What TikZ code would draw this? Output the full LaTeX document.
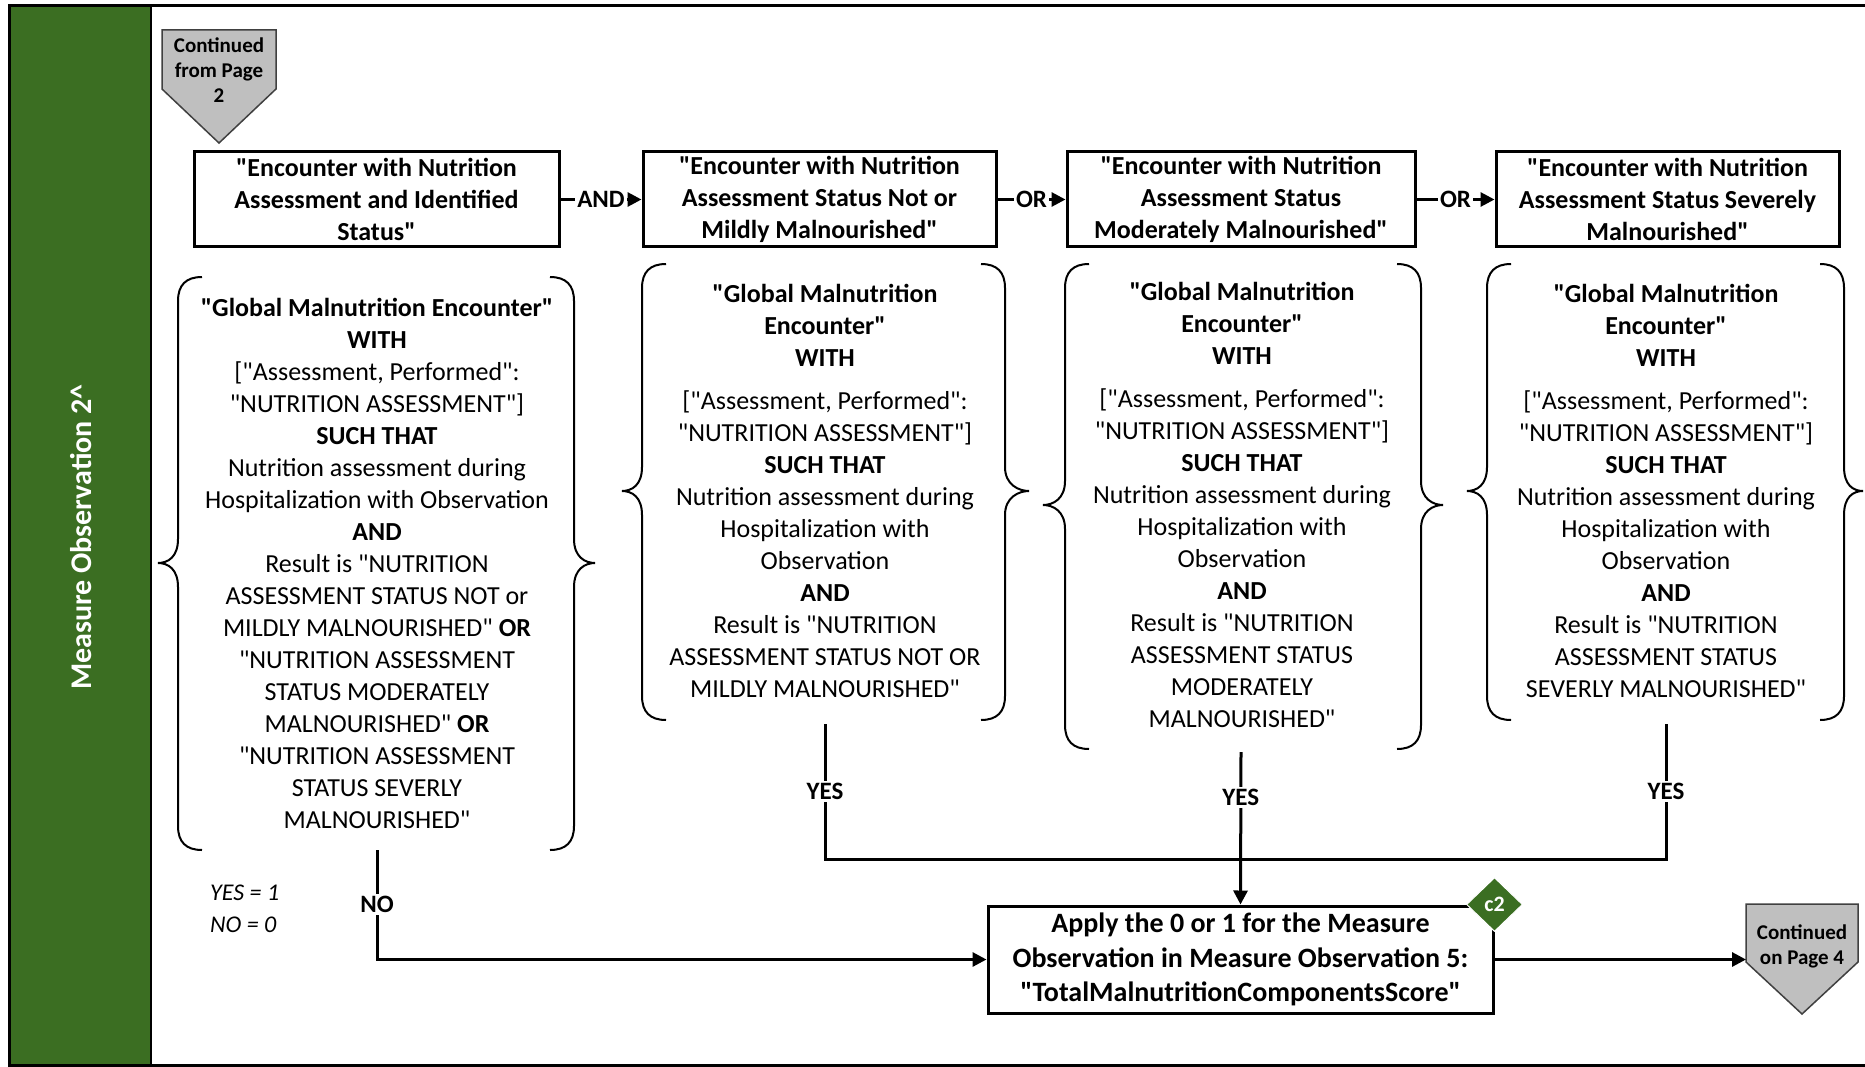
\documentclass[tikz,border=0pt]{standalone}
\usepackage{fontspec}
\setmainfont{Carlito}[Ligatures=TeXOff]
\usetikzlibrary{arrows.meta,shapes.geometric}
\definecolor{bandgreen}{HTML}{3B6E22}
\definecolor{pagegray}{HTML}{BFBFBF}
\definecolor{pageedge}{HTML}{404040}

% curly brace pair around a condition block:
% #1 left line x, #2 left tip x, #3 right line x, #4 right tip x, #5 top y, #6 middle y, #7 bottom y
\newcommand{\bracepair}[7]{%
  \draw[brace] ({#1+24},#5) .. controls ({#1+8},#5) and (#1,{#5+8}) .. (#1,{#5+24})
    -- (#1,{#6-24}) .. controls (#1,{#6-6}) and ({#2+10},#6) .. (#2,#6)
    .. controls ({#2+10},#6) and (#1,{#6+6}) .. (#1,{#6+24})
    -- (#1,{#7-24}) .. controls (#1,{#7-8}) and ({#1+8},#7) .. ({#1+24},#7);
  \draw[brace] ({#3-24},#5) .. controls ({#3-8},#5) and (#3,{#5+8}) .. (#3,{#5+24})
    -- (#3,{#6-24}) .. controls (#3,{#6-6}) and ({#4-10},#6) .. (#4,#6)
    .. controls ({#4-10},#6) and (#3,{#6+6}) .. (#3,{#6+24})
    -- (#3,{#7-24}) .. controls (#3,{#7-8}) and ({#3-8},#7) .. ({#3-24},#7);
}

\begin{document}
\begin{tikzpicture}[x=1pt,y=-1pt,
  every node/.style={inner sep=0pt},
  stepbox/.style={draw,line width=3pt,align=center,fill=white,
    font=\fontsize{26}{32}\selectfont\bfseries,minimum height=95pt},
  cond/.style={align=center,font=\fontsize{26}{32}\selectfont},
  brace/.style={line width=2pt},
  flow/.style={line width=3pt},
  arr/.style={flow,-{Triangle[length=14pt,width=14pt]}},
  lbl/.style={fill=white,font=\fontsize{25}{30}\selectfont\bfseries,inner sep=2pt},
  pagetxt/.style={align=center,font=\fontsize{21}{25}\selectfont\bfseries},
  pageshape/.style={fill=pagegray,draw=pageedge,line width=1.5pt,line join=miter},
]
\useasboundingbox (0,0) rectangle (1865,1067);

% side band and frame
\fill[bandgreen] (10,6) rectangle (151,1065);
\draw[line width=3pt] (9,6) rectangle (1870,1065);
\draw[line width=2pt] (151,6) -- (151,1065);
\node[rotate=90,text=white,font=\fontsize{30}{36}\selectfont\bfseries] (band) at (81,537)
  {Measure Observation 2\textasciicircum};

% off-page connector (incoming)
\draw[pageshape] (162,30) -- (276,30) -- (276,89) -- (219,143) -- (162,89) -- cycle;
\node[pagetxt] (p2) at (219,70) {Continued\\from Page\\2};

% top row of criteria
\node[stepbox,minimum width=365pt] (e1) at (376.5,199.5)
  {"Encounter with Nutrition\\Assessment and Identified\\Status"};
\node[stepbox,minimum width=353pt] (e2) at (819.5,199.5)
  {"Encounter with Nutrition\\Assessment Status Not or\\Mildly Malnourished"};
\node[stepbox,minimum width=348pt] (e3) at (1241,199.5)
  {"Encounter with Nutrition\\Assessment Status\\Moderately Malnourished"};
\node[stepbox,minimum width=343pt] (e4) at (1667.5,199.5)
  {"Encounter with Nutrition\\Assessment Status Severely\\Malnourished"};

\draw[arr] (e1.east) -- node[lbl]{AND} (e2.west);
\draw[arr] (e2.east) -- node[lbl]{OR} (e3.west);
\draw[arr] (e3.east) -- node[lbl]{OR} (e4.west);

% condition blocks
\node[cond] (g1) at (377,563)
  {\textbf{"Global Malnutrition Encounter"}\\\textbf{WITH}\\{}["Assessment, Performed":\\"NUTRITION ASSESSMENT"]\\\textbf{SUCH THAT}\\Nutrition assessment during\\Hospitalization with Observation\\\textbf{AND}\\Result is "NUTRITION\\ASSESSMENT STATUS NOT or\\MILDLY MALNOURISHED" \textbf{OR}\\"NUTRITION ASSESSMENT\\STATUS MODERATELY\\MALNOURISHED" \textbf{OR}\\"NUTRITION ASSESSMENT\\STATUS SEVERLY\\MALNOURISHED"};
\bracepair{178}{158}{574}{595}{277}{563}{850}
\coordinate (g1s) at (377,850);

\node[cond] (g2) at (825,491)
  {\textbf{"Global Malnutrition}\\\textbf{Encounter"}\\\textbf{WITH}\\[11pt]{}["Assessment, Performed":\\"NUTRITION ASSESSMENT"]\\\textbf{SUCH THAT}\\Nutrition assessment during\\Hospitalization with\\Observation\\\textbf{AND}\\Result is "NUTRITION\\ASSESSMENT STATUS NOT OR\\MILDLY MALNOURISHED"};
\bracepair{642}{622}{1005}{1029}{264}{491}{720}
\coordinate (g2s) at (825,724);

\node[cond] (g3) at (1242,505)
  {\textbf{"Global Malnutrition}\\\textbf{Encounter"}\\\textbf{WITH}\\[11pt]{}["Assessment, Performed":\\"NUTRITION ASSESSMENT"]\\\textbf{SUCH THAT}\\Nutrition assessment during\\Hospitalization with\\Observation\\\textbf{AND}\\Result is "NUTRITION\\ASSESSMENT STATUS\\MODERATELY\\MALNOURISHED"};
\bracepair{1065}{1043}{1421}{1443}{264}{505}{749}
\coordinate (g3s) at (1241,752);

\node[cond] (g4) at (1666,491)
  {\textbf{"Global Malnutrition}\\\textbf{Encounter"}\\\textbf{WITH}\\[11pt]{}["Assessment, Performed":\\"NUTRITION ASSESSMENT"]\\\textbf{SUCH THAT}\\Nutrition assessment during\\Hospitalization with\\Observation\\\textbf{AND}\\Result is "NUTRITION\\ASSESSMENT STATUS\\SEVERLY MALNOURISHED"};
\bracepair{1487}{1467}{1844}{1863}{264}{491}{720}
\coordinate (g4s) at (1666,724);

% outcome box
\node[stepbox,minimum width=505pt,minimum height=107pt,
  font=\fontsize{28}{34.5}\selectfont\bfseries] (o5) at (1240.5,959.5)
  {Apply the 0 or 1 for the Measure\\Observation in Measure Observation 5:\\"TotalMalnutritionComponentsScore"};
\node[diamond,fill=bandgreen,draw=white,line width=1pt,minimum width=56pt,minimum height=54pt,
  text=white,font=\fontsize{22}{26}\selectfont\bfseries] (c2) at (o5.north east) {c2};

% legend
\node[anchor=west,align=left,font=\fontsize{24}{32}\selectfont\itshape] (legend) at (210,909)
  {YES = 1\\NO = 0};

% joins of the YES branches
\coordinate (join) at (1241,859);
\draw[flow] (g2s) -- node[lbl]{YES} (g2s |- join) -- (g4s |- join) -- node[lbl]{YES} (g4s);
\draw[arr] (g3s) -- node[lbl,pos=0.3]{YES} (o5.north);
\draw[arr] (g1s) -- node[lbl]{NO} (g1s |- o5.west) -- (o5.west);

% off-page connector (outgoing)
\draw[pageshape] (1746,904) -- (1858,904) -- (1858,962) -- (1802,1014) -- (1746,962) -- cycle;
\node[pagetxt] (p4) at (1802,946) {Continued\\on Page 4};
\coordinate (p4in) at (1746,959.5);
\draw[arr] (o5.east) -- (p4in);
\end{tikzpicture}
\end{document}
